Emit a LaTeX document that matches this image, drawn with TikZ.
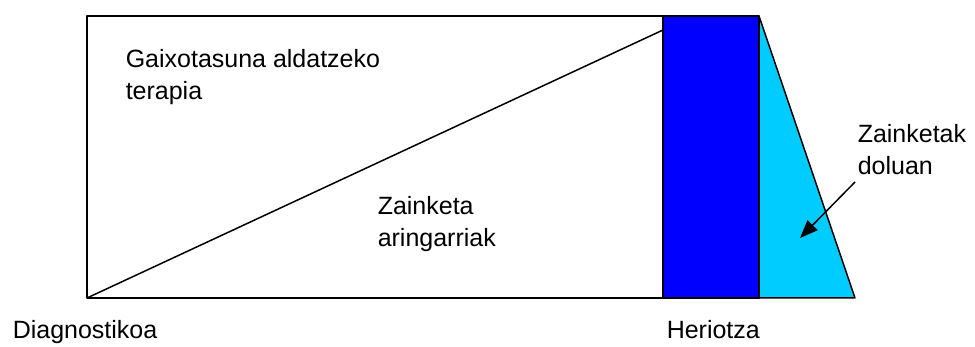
\documentclass[tikz,border=0pt]{standalone}
\usepackage{fontspec}
\setmainfont{Liberation Sans}
\usetikzlibrary{arrows.meta}
\definecolor{heriotzablue}{RGB}{0,0,255}
\definecolor{doluancyan}{RGB}{0,204,255}

\begin{document}
\begin{tikzpicture}[x=1pt, y=-1pt, line width=1.5pt, line join=round,
    testua/.style={anchor=north west, inner sep=0pt, align=left,
      font=\fontsize{25}{32}\selectfont}]
      \useasboundingbox (0,0) rectangle (975,347);
      % Ertzak
      \coordinate (diag) at (87,298);
      \coordinate (terapiatop) at (87,16);
      \coordinate (terapiaend) at (683,298);
      \coordinate (zaintop) at (663,30);
      \coordinate (blueNW) at (663,16);
      \coordinate (blueSE) at (759,298);
      \coordinate (cyanN) at (759,16);
      \coordinate (cyanSE) at (855,298);
      % Terapia
      \draw (terapiatop) rectangle (terapiaend);
      \draw (diag) -- (zaintop);
      % Heriotza
      \filldraw[fill=heriotzablue] (blueNW) rectangle (blueSE);
      % Dolua
      \filldraw[fill=doluancyan] (cyanN) -- (cyanSE) -- (blueSE) -- cycle;

      % Testuak
      \node[testua] (terapia) at (125,49) {Gaixotasuna aldatzeko\\terapia};
      \node[testua] (aringarri) at (377,196) {Zainketa\\aringarriak};
      \node[testua] (dolu) at (857,124) {Zainketak\\doluan};
      \node[testua] (diagnostiko) at (12,320) {Diagnostikoa};
      \node[testua] (heriotza) at (666,320) {Heriotza};

      % Gezia
      \coordinate (dolustart) at (855,182);
      \coordinate (dolutip) at (800,238);
      \draw[-{Triangle[length=18pt,width=14pt]}] (dolustart) -- (dolutip);
\end{tikzpicture}
\end{document}
